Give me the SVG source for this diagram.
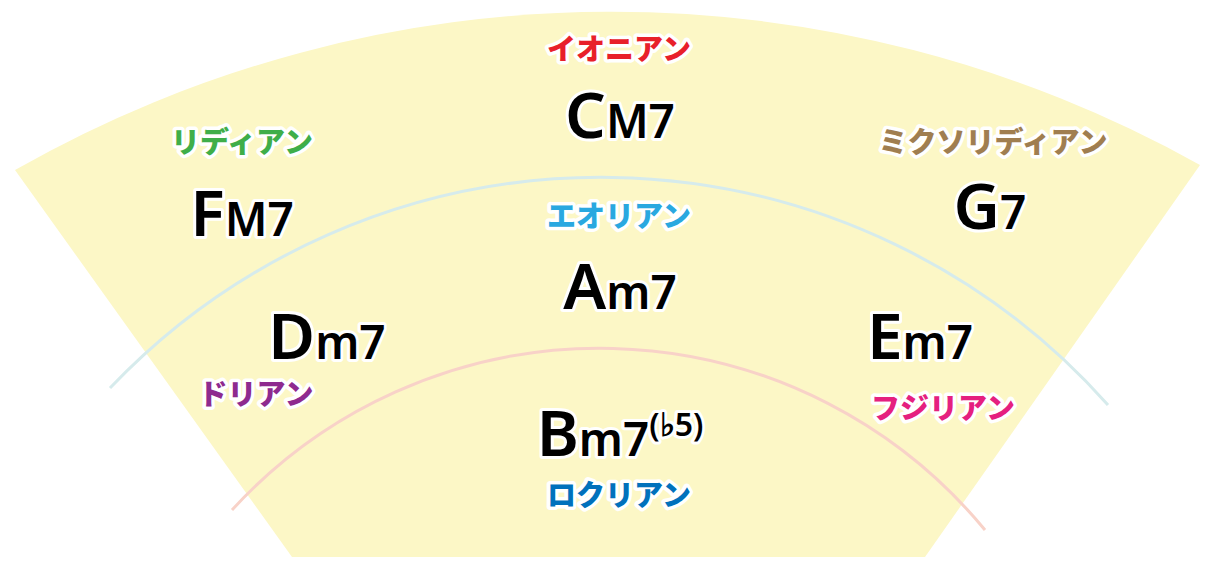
<svg xmlns="http://www.w3.org/2000/svg" width="1228" height="570" viewBox="0 0 1228 570">
<style>
.c{font-family:"Noto Sans","Liberation Sans",sans-serif;font-weight:600;fill:#000;stroke:#fff;stroke-width:6;paint-order:stroke;stroke-linejoin:round;text-anchor:middle}
.b{font-size:64px}.s{font-size:46px}.x{font-size:32px}
.l{font-family:"Noto Sans CJK JP",sans-serif;font-weight:900;font-size:29px;stroke:#fff;stroke-width:7;paint-order:stroke;stroke-linejoin:round;text-anchor:middle}
</style>
<path d="M15,170 A1205,1205 0 0 1 1200,165 L925,557 L292,557 Z" fill="#fcf7c6"/>
<g id="connectors" fill="none" stroke-width="3">
<path d="M110,388 A678,678 0 0 1 1108,405" stroke="#d6ebec"/>
<path d="M232,510 A499,499 0 0 1 985,530" stroke="#f8d2c8"/>
</g>
<g id="ionian"><text class="l" x="619" y="60" fill="#e8202a">イオニアン</text><text class="c" x="620" y="138"><tspan class="b">C</tspan><tspan class="s">M7</tspan></text></g>
<g id="lydian"><text class="l" x="242" y="153" fill="#3fae49">リディアン</text><text class="c" x="242" y="236"><tspan class="b">F</tspan><tspan class="s">M7</tspan></text></g>
<g id="mixolydian"><text class="l" x="993" y="153" fill="#a07e50">ミクソリディアン</text><text class="c" x="990" y="229"><tspan class="b">G</tspan><tspan class="s">7</tspan></text></g>
<g id="aeolian"><text class="l" x="619" y="227" fill="#29a8e0">エオリアン</text><text class="c" x="620" y="309"><tspan class="b">A</tspan><tspan class="s">m7</tspan></text></g>
<g id="dorian"><text class="l" x="256" y="405" fill="#8e2a8f">ドリアン</text><text class="c" x="327" y="359"><tspan class="b">D</tspan><tspan class="s">m7</tspan></text></g>
<g id="phrygian"><text class="l" x="943" y="419" fill="#e5207f">フジリアン</text><text class="c" x="920" y="359"><tspan class="b">E</tspan><tspan class="s">m7</tspan></text></g>
<g id="locrian"><text class="l" x="619" y="506" fill="#0071bc">ロクリアン</text><text class="c" x="620" y="456"><tspan class="b">B</tspan><tspan class="s">m7</tspan><tspan class="x" dy="-20">(♭5)</tspan></text></g>
</svg>
